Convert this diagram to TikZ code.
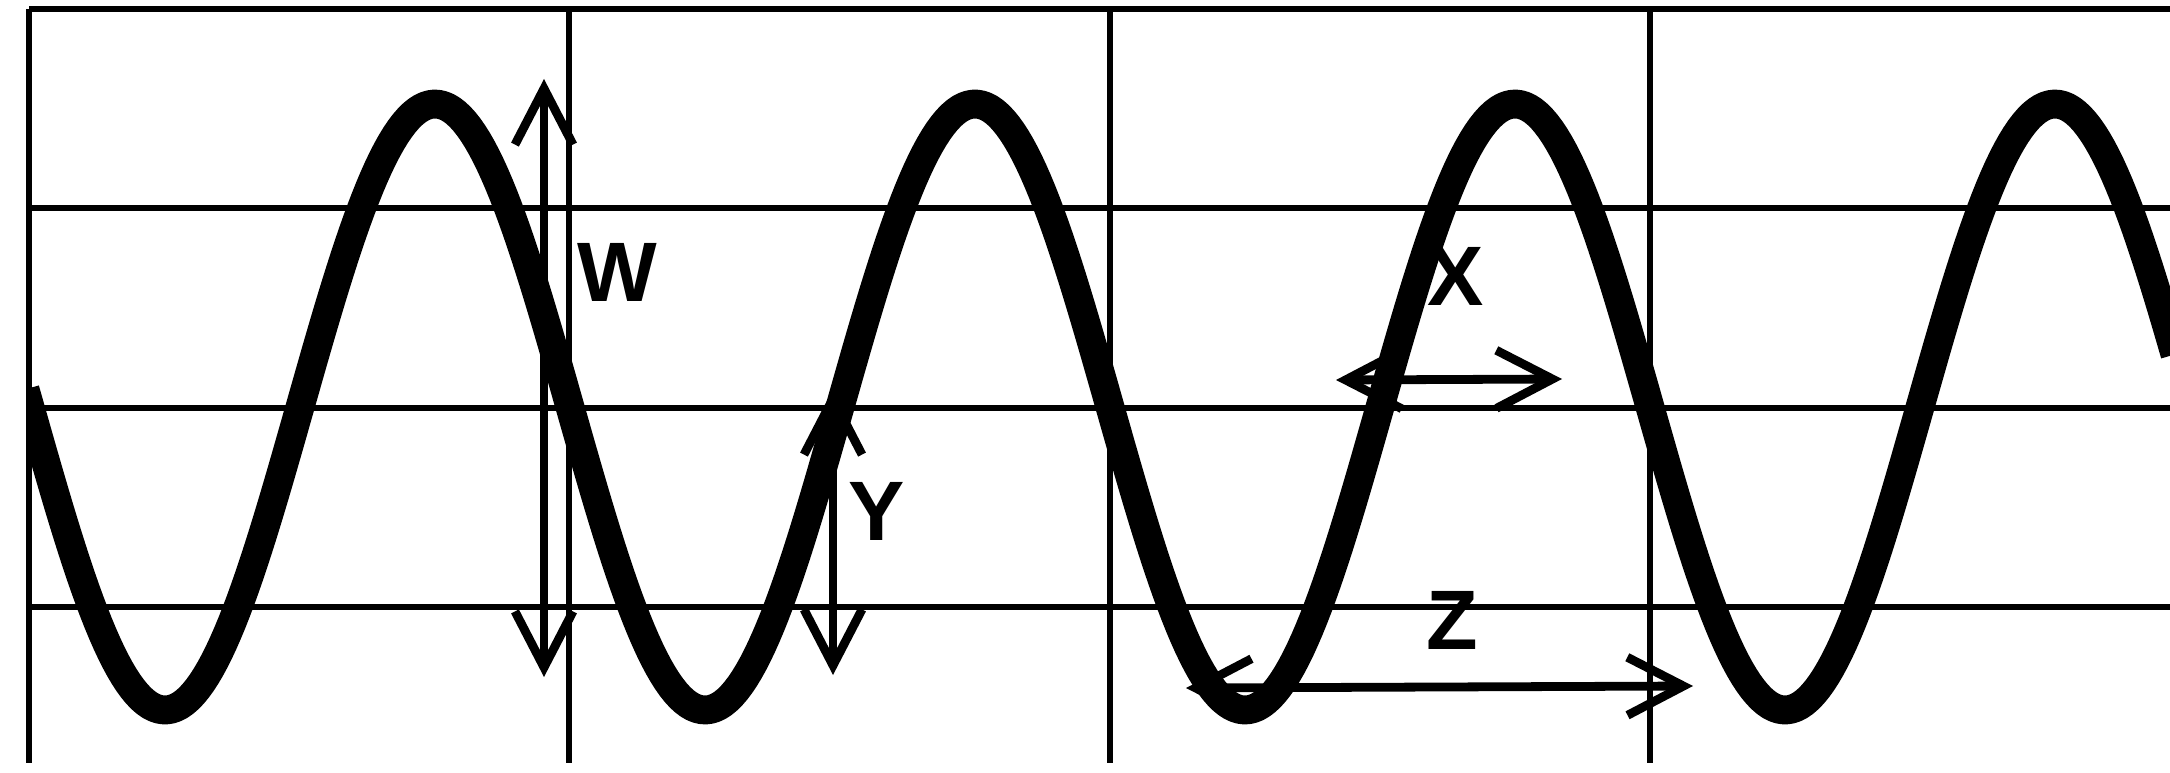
\documentclass[tikz,border=0pt]{standalone}
\usepackage{fontspec}
\setmainfont{Liberation Sans}
\usetikzlibrary{arrows.meta}
\begin{document}
\begin{tikzpicture}[x=0.01cm,y=-0.01cm,
  grid/.style={line width=1.7pt, black},
  wave/.style={line width=8.2pt, black, line join=round},
  dim/.style={line width=2.5pt, {Straight Barb[length=0.56cm,width=0.58cm]}-{Straight Barb[length=0.56cm,width=0.58cm]}},
  lab/.style={font=\fontsize{24}{28}\selectfont\bfseries, inner sep=0pt}]
\useasboundingbox (0,0) rectangle (2170,773);
\clip (0,0) rectangle (2170,773);
% grid
\foreach \yy in {9,208,408,607} \draw[grid] (29,\yy) -- (2175,\yy);
\foreach \xx in {29,569,1110,1650} \draw[grid] (\xx,9) -- (\xx,763);
% wave
\begin{scope}
\clip (27,0) rectangle (2170,773);
\draw[wave] plot[domain=25:2175, samples=500] (\x,{407-303*cos((\x-435)*0.666667)});
\end{scope}
% arrows
\coordinate (w1) at (544,79);
\coordinate (w2) at (544,677);
\coordinate (y1) at (833,389);
\coordinate (y2) at (833,675);
\coordinate (x1) at (1336,380);
\coordinate (x2) at (1562,379);
\coordinate (z1) at (1186,688);
\coordinate (z2) at (1693,686);
\draw[dim] (w1) -- (w2);
\draw[dim] (y1) -- (y2);
\draw[dim] (x1) -- (x2);
\draw[dim] (z1) -- (z2);
% labels
\node[lab] (W) at (617,272) {W};
\node[lab] (Y) at (877,511) {Y};
\node[lab] (X) at (1456,276) {X};
\node[lab] (Z) at (1452,620) {Z};
\end{tikzpicture}
\end{document}
